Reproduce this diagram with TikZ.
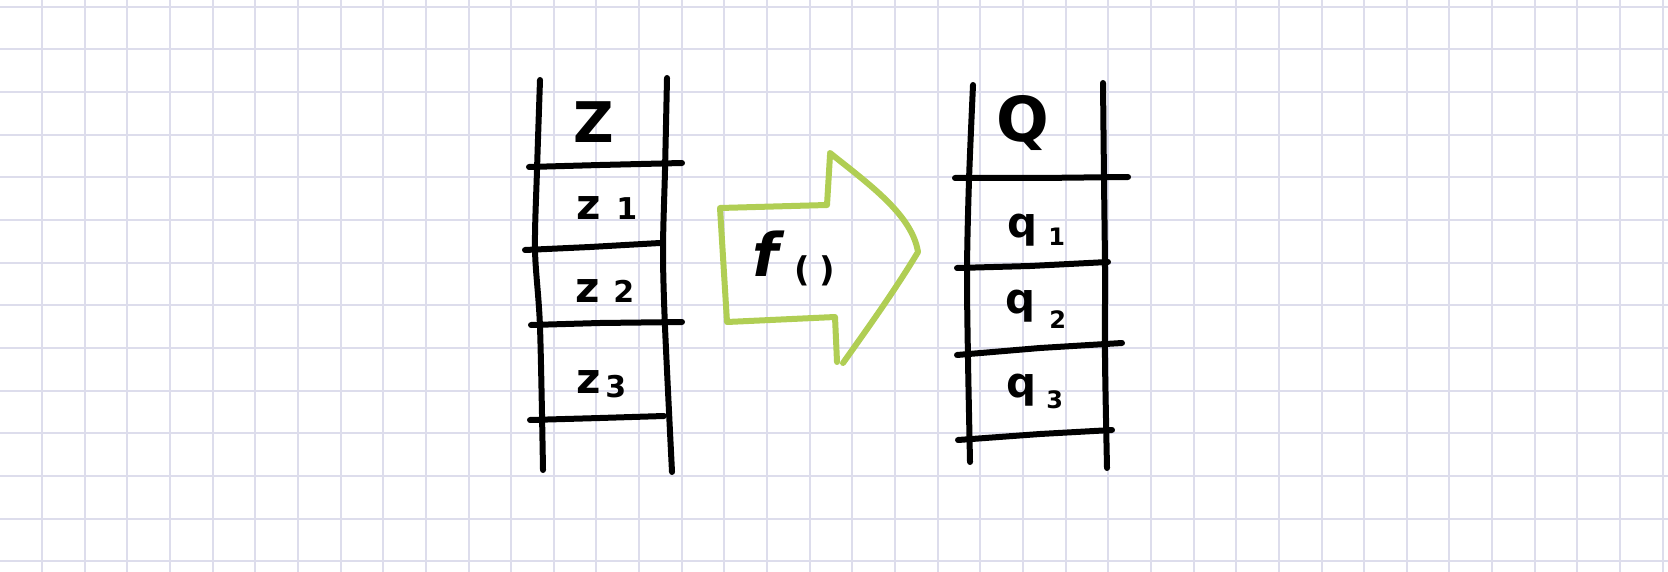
\documentclass[tikz,border=0pt]{standalone}
\usepackage{fontspec}
\setmainfont{DejaVu Sans}
\definecolor{gridc}{RGB}{221,221,236}
\definecolor{arrowgreen}{RGB}{176,206,84}
\tikzset{
  gridline/.style={gridc, line width=1pt},
  ink/.style={black, line width=3pt, line cap=round, line join=round},
  greenink/.style={arrowgreen, line width=3pt, line cap=round, line join=round},
  bigl/.style={inner sep=0pt, font=\fontsize{27}{27}\selectfont\bfseries},
  lz/.style={inner sep=0pt, font=\fontsize{21}{21}\selectfont\bfseries},
  ldig/.style={inner sep=0pt, font=\fontsize{15}{15}\selectfont\bfseries},
  lq/.style={inner sep=0pt, font=\fontsize{21}{21}\selectfont\bfseries},
  lqdig/.style={inner sep=0pt, font=\fontsize{12}{12}\selectfont\bfseries},
}
\begin{document}
\begin{tikzpicture}[x=0.5pt,y=-0.5pt]
\fill[white] (0,0) rectangle (1668,572);
\useasboundingbox (0,0) rectangle (1668,572);
% grid
\foreach \k in {0,...,38} \draw[gridline] ({42+\k*42.65},0) -- ({42+\k*42.65},572);
\foreach \k in {0,...,13} \draw[gridline] (0,{6.7+\k*42.65}) -- (1668,{6.7+\k*42.65});

% left ladder
\draw[ink] plot[smooth] coordinates {(540,80) (537,170) (535,250) (540,327) (543,470)};
\draw[ink] plot[smooth] coordinates {(667,78) (665,170) (663,250) (665,327) (672,472)};
\draw[ink] (529,167) -- (600,165) -- (682,163);
\draw[ink] (525,250) -- (590,247) -- (660,243);
\draw[ink] (531,325) -- (600,323) -- (682,322);
\draw[ink] (530,420) -- (600,418) -- (664,416);

\node[bigl, font=\fontsize{28}{28}\selectfont\bfseries] (Z) at (594,122) {Z};
\node[lz, anchor=base west] (z1) at (576,220) {z};
\node[ldig, anchor=base west] (z1i) at (616,220) {1};
\node[lz, anchor=base west] (z2) at (575,302) {z};
\node[ldig, anchor=base west] (z2i) at (613,302) {2};
\node[lz, anchor=base west] (z3) at (576,393) {z};
\node[ldig, anchor=base west] (z3i) at (605,397) {3};

% right ladder
\draw[ink] plot[smooth] coordinates {(973,85) (969,180) (967,270) (968,360) (970,462)};
\draw[ink] plot[smooth] coordinates {(1103,83) (1104,180) (1105,270) (1105,360) (1107,468)};
\draw[ink] (955,178) -- (1040,178) -- (1128,177);
\draw[ink] (957,268) -- (1030,266) -- (1108,262);
\draw[ink] (957,355) -- (1040,348) -- (1122,343);
\draw[ink] (958,440) -- (1040,434) -- (1112,430);

\node[bigl, font=\fontsize{31}{31}\selectfont\bfseries] (Q) at (1023,123) {Q};
\node[lq, anchor=base west] (q1) at (1007,237) {q};
\node[lqdig, anchor=base west] (q1i) at (1048,245) {1};
\node[lq, anchor=base west] (q2) at (1005,313) {q};
\node[lqdig, anchor=base west] (q2i) at (1049,328) {2};
\node[lq, anchor=base west] (q3) at (1006,397) {q};
\node[lqdig, anchor=base west] (q3i) at (1046,408) {3};

% green arrow
\draw[greenink] (830,155) -- (827,205) -- (720,208) -- (727,322) -- (835,317) -- (837,362);
\draw[greenink] (830,153) .. controls (870,185) and (912,215) .. (918,252)
                .. controls (895,290) and (870,325) .. (843,363);
\node[inner sep=0pt, anchor=base west, font=\fontsize{30}{30}\selectfont\bfseries\itshape] (f) at (752,276) {f};
\node[inner sep=0pt, anchor=base west, font=\fontsize{17}{17}\selectfont\bfseries] (fp) at (794,281) {(\hspace{5pt})};
\end{tikzpicture}
\end{document}
